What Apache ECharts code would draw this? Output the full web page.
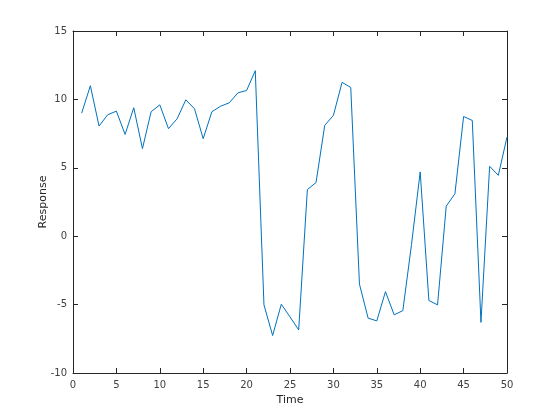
<!DOCTYPE html>
<html>
<head>
<meta charset="utf-8">
<script src="https://cdn.jsdelivr.net/npm/echarts@6/dist/echarts.min.js"></script>
<style>html,body{margin:0;padding:0;background:#fff;}#c{width:560px;height:420px;}</style>
</head>
<body>
<div id="c"></div>
<script>
var timeValues = [1,2,3,4,5,6,7,8,9,10,11,12,13,14,15,16,17,18,19,20,21,22,23,24,25,26,27,28,29,30,31,32,33,34,35,36,37,38,39,40,41,42,43,44,45,46,47,48,49,50];
var responseValues = [9.0,11.0,8.05,8.88,9.14,7.44,9.39,6.4,9.1,9.6,7.86,8.59,9.97,9.31,7.13,9.1,9.5,9.75,10.48,10.65,12.1,-5.02,-7.26,-4.97,-5.9,-6.85,3.41,3.92,8.1,8.83,11.25,10.87,-3.5,-5.99,-6.19,-4.05,-5.75,-5.44,-0.6,4.7,-4.7,-5.02,2.2,3.1,8.75,8.46,-6.3,5.11,4.45,7.25];
var xTicks = [0,5,10,15,20,25,30,35,40,45,50];
var yTicks = [-10,-5,0,5,10,15];

var seriesData = timeValues.map(function(t,i){return [t, responseValues[i]];});
var font = 'DejaVu Sans';
var axisCol = '#262626';
var labelCol = '#404040';

var chart = echarts.init(document.getElementById('c'), null, {renderer:'canvas'});
chart.setOption({
  animation:false,
  backgroundColor:'#ffffff',
  grid:{left:73, right:53, top:31, bottom:47, containLabel:false},
  xAxis:[{
    type:'value', min:xTicks[0], max:xTicks[xTicks.length-1], interval:5, position:'bottom',
    name:'Time', nameLocation:'middle', nameGap:22, nameMoveOverlap:false,
    nameTextStyle:{fontFamily:font, fontSize:11, color:axisCol},
    axisLine:{show:true, onZero:false, lineStyle:{color:axisCol, width:1}},
    axisTick:{show:true, inside:true, length:5, lineStyle:{color:axisCol}},
    axisLabel:{fontFamily:font, fontSize:10, color:labelCol, margin:7},
    splitLine:{show:false}
  },{
    type:'value', min:xTicks[0], max:xTicks[xTicks.length-1], interval:5, position:'top',
    axisLine:{show:true, onZero:false, lineStyle:{color:axisCol, width:1}},
    axisTick:{show:true, inside:true, length:5, lineStyle:{color:axisCol}},
    axisLabel:{show:false},
    splitLine:{show:false}
  }],
  yAxis:[{
    type:'value', min:yTicks[0], max:yTicks[yTicks.length-1], interval:5, position:'left',
    name:'Response', nameLocation:'middle', nameGap:24, nameMoveOverlap:false,
    nameTextStyle:{fontFamily:font, fontSize:11, color:axisCol},
    axisLine:{show:true, onZero:false, lineStyle:{color:axisCol, width:1}},
    axisTick:{show:true, inside:true, length:5, lineStyle:{color:axisCol}},
    axisLabel:{fontFamily:font, fontSize:10, color:labelCol, margin:6},
    splitLine:{show:false}
  },{
    type:'value', min:yTicks[0], max:yTicks[yTicks.length-1], interval:5, position:'right',
    axisLine:{show:true, onZero:false, lineStyle:{color:axisCol, width:1}},
    axisTick:{show:true, inside:true, length:5, lineStyle:{color:axisCol}},
    axisLabel:{show:false},
    splitLine:{show:false}
  }],
  series:[{
    type:'line', data:seriesData, xAxisIndex:0, yAxisIndex:0,
    showSymbol:false, symbol:'none',
    lineStyle:{color:'#0072BD', width:1},
    itemStyle:{color:'#0072BD'}
  }]
});
</script>
</body>
</html>
